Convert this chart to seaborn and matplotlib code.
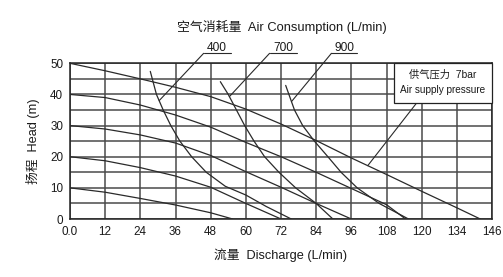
import numpy as np
import pandas as pd
import matplotlib
matplotlib.use("Agg")
import matplotlib.pyplot as plt
import seaborn as sns
from matplotlib.patches import Rectangle

# ---- data (x in chart position units, 12 per grid step) ----
xtick_labels = ["0.0", "12", "24", "36", "48", "60", "72", "84", "96", "108", "120", "134", "146"]
ytick_labels = ["0", "10", "20", "30", "40", "50"]

h50_q = [0, 12, 24, 36, 48, 60, 72, 84, 96, 108, 120, 132, 140]
h50_h = [50, 47.6, 45, 42.3, 39.3, 35.3, 30.5, 25.2, 19.6, 14.3, 8.9, 3.6, 0]
h40_q = [0, 12, 24, 36, 48, 60, 72, 84, 96, 108, 114.5]
h40_h = [40, 39, 36.6, 33.4, 29.5, 24.6, 20, 15, 9.8, 4.6, 0]
h30_q = [0, 12, 24, 36, 48, 60, 72, 84, 96]
h30_h = [30, 28.9, 27, 24.4, 20.4, 15.2, 10.2, 5, 0]
h20_q = [0, 12, 24, 36, 48, 60, 72]
h20_h = [20, 18.7, 16.5, 13.8, 10.2, 5, 0]
h10_q = [0, 12, 24, 36, 48, 55.5]
h10_h = [10, 8.6, 6.6, 4.5, 2, 0]

air400_q = [27.4, 29.5, 31.8, 34.4, 37.5, 41.5, 46.5, 53, 60, 67, 75.5]
air400_h = [47.4, 40, 35, 30, 25, 20, 15, 10.5, 7.7, 4, 0]
air700_q = [51.3, 54, 56.8, 59.6, 62.8, 66.4, 71.3, 77, 84, 89.7]
air700_h = [44.1, 40, 35, 30, 25, 20, 15, 10, 5, 0]
air900_q = [73.6, 74.7, 76.6, 79.4, 83.4, 88, 92.5, 98, 105.5, 115.5]
air900_h = [42.9, 40, 35, 30, 25, 20, 15, 10, 5, 0]

air_labels = ["400", "700", "900"]

curves = {
    "h50": (h50_q, h50_h), "h40": (h40_q, h40_h), "h30": (h30_q, h30_h),
    "h20": (h20_q, h20_h), "h10": (h10_q, h10_h),
    "a400": (air400_q, air400_h), "a700": (air700_q, air700_h), "a900": (air900_q, air900_h),
}
rows = []
for name, (q, h) in curves.items():
    for qi, hi in zip(q, h):
        rows.append({"curve": name, "Q": qi, "H": hi})
df = pd.DataFrame(rows)

sns.set_theme(style="white")
plt.rcParams["font.family"] = ["Liberation Sans", "Noto Sans CJK SC"]

fig = plt.figure(figsize=(5.03, 2.77), dpi=100)
ax = fig.add_axes([70 / 503, 58 / 277, 422 / 503, 155.7 / 277])

sns.lineplot(data=df, x="Q", y="H", units="curve", estimator=None, sort=False,
             color="#2a2a2a", lw=0.9, ax=ax, zorder=3)

ax.set_xlim(0, 144)
ax.set_ylim(0, 50)
ax.set_xticks(np.arange(0, 145, 12))
ax.set_xticklabels(xtick_labels)
ax.set_yticks(np.arange(0, 51, 10))
ax.set_yticklabels(ytick_labels)
ax.set_yticks(np.arange(5, 50, 10), minor=True)
ax.tick_params(axis="both", which="both", length=0, labelsize=8.4, colors="#1a1a1a", pad=5)
ax.grid(True, which="both", color="#4a4a4a", lw=1.1, zorder=1)
for s in ax.spines.values():
    s.set_color("#222222")
    s.set_linewidth(1.1)

ax.set_xlabel("")
ax.set_ylabel("")
ax.text(0.5, -0.231, "流量  Discharge (L/min)", transform=ax.transAxes,
        ha="center", va="center", fontsize=9.2, color="#1a1a1a")
ax.text(-0.0865, 0.5, "扬程  Head (m)", transform=ax.transAxes, rotation=90,
        ha="center", va="center", fontsize=9.2, color="#1a1a1a")
ax.text(0.502, 1.233, "空气消耗量  Air Consumption (L/min)", transform=ax.transAxes,
        ha="center", va="center", fontsize=9.3, color="#1a1a1a")

# air-consumption labels with leader lines
label_spans = [(45.6, 54.8), (68.1, 77.3), (89.2, 98.0)]
leader_heads = [38.0, 39.3, 37.7]
air_curves = [(air400_q, air400_h), (air700_q, air700_h), (air900_q, air900_h)]
for lab, (x0, x1), hh, (q, h) in zip(air_labels, label_spans, leader_heads, air_curves):
    qx = np.interp(hh, h[::-1], q[::-1])
    ax.plot([x0, x1], [53.2, 53.2], color="#2a2a2a", lw=0.8, clip_on=False)
    ax.plot([x0, qx], [53.2, hh], color="#2a2a2a", lw=0.8, clip_on=False, zorder=4)
    ax.text((x0 + x1) / 2, 55.0, lab, ha="center", va="center", fontsize=8.6,
            color="#1a1a1a", clip_on=False)

# supply-pressure box
box = Rectangle((110.4, 37.4), 144 - 110.4, 50 - 37.4, facecolor="white",
                edgecolor="#222222", lw=0.9, zorder=5, clip_on=False)
ax.add_patch(box)
ax.text(127.2, 46.3, "供气压力  7bar", ha="center", va="center", fontsize=7.4,
        color="#1a1a1a", zorder=6)
ax.text(127.2, 41.5, "Air supply pressure", ha="center", va="center", fontsize=7.2,
        color="#1a1a1a", zorder=6)
px = 101.6
ax.plot([118.4, px], [37.4, np.interp(px, h50_q, h50_h)], color="#2a2a2a", lw=0.8, zorder=4)

fig.savefig("out.png", dpi=100, facecolor="white")
